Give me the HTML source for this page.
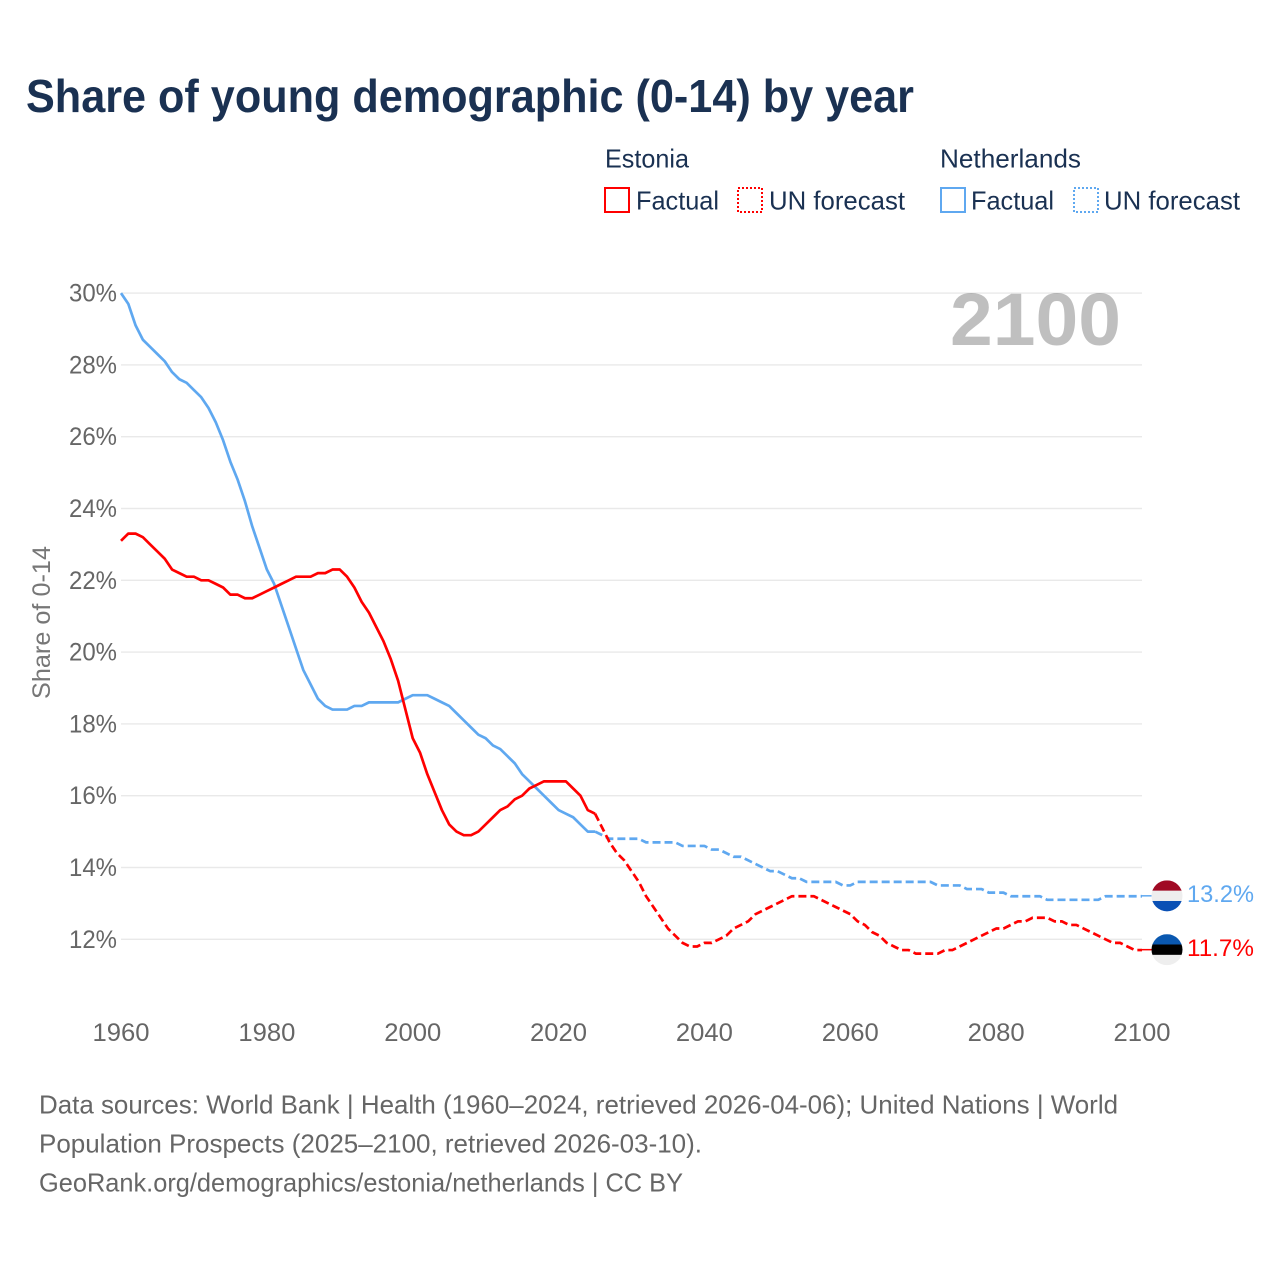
<!DOCTYPE html>
<html lang="en">
<head>
<meta charset="utf-8">
<title>Share of young demographic (0-14) by year</title>
<style>
html,body{margin:0;padding:0;background:#fff;}
svg{display:block;font-family:"Liberation Sans",sans-serif;}
</style>
</head>
<body>
<svg id="chart" xmlns="http://www.w3.org/2000/svg" width="1280" height="1280" viewBox="0 0 1280 1280">
  <rect x="0" y="0" width="1280" height="1280" fill="#ffffff"/>
  <text x="26" y="112" font-size="46" font-weight="700" fill="#1a3152" textLength="888" lengthAdjust="spacingAndGlyphs">Share of young demographic (0-14) by year</text>

  <g font-size="26" fill="#1a3152">
    <text x="605" y="167.5" textLength="84" lengthAdjust="spacingAndGlyphs">Estonia</text>
    <text x="940" y="167.5" textLength="141" lengthAdjust="spacingAndGlyphs">Netherlands</text>
    <rect x="605" y="188" width="24" height="24" fill="none" stroke="#ff0000" stroke-width="2"/>
    <text x="636" y="209.5" textLength="83" lengthAdjust="spacingAndGlyphs">Factual</text>
    <rect x="738" y="188" width="24" height="24" fill="none" stroke="#ff0000" stroke-width="2" stroke-dasharray="2 2"/>
    <text x="769" y="209.5" textLength="136" lengthAdjust="spacingAndGlyphs">UN forecast</text>
    <rect x="941" y="188" width="24" height="24" fill="none" stroke="#5fa8f0" stroke-width="2"/>
    <text x="971" y="209.5" textLength="83" lengthAdjust="spacingAndGlyphs">Factual</text>
    <rect x="1074" y="188" width="24" height="24" fill="none" stroke="#5fa8f0" stroke-width="2" stroke-dasharray="2 2"/>
    <text x="1104" y="209.5" textLength="136" lengthAdjust="spacingAndGlyphs">UN forecast</text>
  </g>

  <g id="grid"></g>
  <g id="yticks" font-size="25" fill="#666666"></g>
  <g id="xticks" font-size="25" fill="#666666"></g>
  <text transform="translate(50 622.5) rotate(-90)" text-anchor="middle" font-size="25" fill="#777777" textLength="153" lengthAdjust="spacingAndGlyphs">Share of 0-14</text>
  <text x="950" y="345" font-size="74" font-weight="700" fill="#000000" fill-opacity="0.25" textLength="171" lengthAdjust="spacingAndGlyphs">2100</text>

  <g id="series"></g>
  <g id="flags"></g>

  <g font-size="26" fill="#666666">
    <text x="39" y="1113.5" textLength="1079" lengthAdjust="spacingAndGlyphs">Data sources: World Bank | Health (1960–2024, retrieved 2026-04-06); United Nations | World</text>
    <text x="39" y="1152.5" textLength="663" lengthAdjust="spacingAndGlyphs">Population Prospects (2025–2100, retrieved 2026-03-10).</text>
    <text x="39" y="1191.5" textLength="644" lengthAdjust="spacingAndGlyphs">GeoRank.org/demographics/estonia/netherlands | CC BY</text>
  </g>
</svg>

<script>
const yTickValues = [12, 14, 16, 18, 20, 22, 24, 26, 28, 30];
const xTickValues = [1960, 1980, 2000, 2020, 2040, 2060, 2080, 2100];

const factualYears = [1960,1961,1962,1963,1964,1965,1966,1967,1968,1969,1970,1971,1972,1973,1974,1975,1976,1977,1978,1979,1980,1981,1982,1983,1984,1985,1986,1987,1988,1989,1990,1991,1992,1993,1994,1995,1996,1997,1998,1999,2000,2001,2002,2003,2004,2005,2006,2007,2008,2009,2010,2011,2012,2013,2014,2015,2016,2017,2018,2019,2020,2021,2022,2023,2024,2025];
const forecastYears = [2025,2026,2027,2028,2029,2030,2031,2032,2033,2034,2035,2036,2037,2038,2039,2040,2041,2042,2043,2044,2045,2046,2047,2048,2049,2050,2051,2052,2053,2054,2055,2056,2057,2058,2059,2060,2061,2062,2063,2064,2065,2066,2067,2068,2069,2070,2071,2072,2073,2074,2075,2076,2077,2078,2079,2080,2081,2082,2083,2084,2085,2086,2087,2088,2089,2090,2091,2092,2093,2094,2095,2096,2097,2098,2099,2100];

const estoniaFactual = [23.1,23.3,23.3,23.2,23.0,22.8,22.6,22.3,22.2,22.1,22.1,22.0,22.0,21.9,21.8,21.6,21.6,21.5,21.5,21.6,21.7,21.8,21.9,22.0,22.1,22.1,22.1,22.2,22.2,22.3,22.3,22.1,21.8,21.4,21.1,20.7,20.3,19.8,19.2,18.4,17.6,17.2,16.6,16.1,15.6,15.2,15.0,14.9,14.9,15.0,15.2,15.4,15.6,15.7,15.9,16.0,16.2,16.3,16.4,16.4,16.4,16.4,16.2,16.0,15.6,15.5];
const estoniaForecast = [15.5,15.1,14.7,14.4,14.2,13.9,13.6,13.2,12.9,12.6,12.3,12.1,11.9,11.8,11.8,11.9,11.9,12.0,12.1,12.3,12.4,12.5,12.7,12.8,12.9,13.0,13.1,13.2,13.2,13.2,13.2,13.1,13.0,12.9,12.8,12.7,12.5,12.4,12.2,12.1,11.9,11.8,11.7,11.7,11.6,11.6,11.6,11.6,11.7,11.7,11.8,11.9,12.0,12.1,12.2,12.3,12.3,12.4,12.5,12.5,12.6,12.6,12.6,12.5,12.5,12.4,12.4,12.3,12.2,12.1,12.0,11.9,11.9,11.8,11.7,11.7];
const netherlandsFactual = [30.0,29.7,29.1,28.7,28.5,28.3,28.1,27.8,27.6,27.5,27.3,27.1,26.8,26.4,25.9,25.3,24.8,24.2,23.5,22.9,22.3,21.9,21.3,20.7,20.1,19.5,19.1,18.7,18.5,18.4,18.4,18.4,18.5,18.5,18.6,18.6,18.6,18.6,18.6,18.7,18.8,18.8,18.8,18.7,18.6,18.5,18.3,18.1,17.9,17.7,17.6,17.4,17.3,17.1,16.9,16.6,16.4,16.2,16.0,15.8,15.6,15.5,15.4,15.2,15.0,15.0];
const netherlandsForecast = [15.0,14.9,14.8,14.8,14.8,14.8,14.8,14.7,14.7,14.7,14.7,14.7,14.6,14.6,14.6,14.6,14.5,14.5,14.4,14.3,14.3,14.2,14.1,14.0,13.9,13.9,13.8,13.7,13.7,13.6,13.6,13.6,13.6,13.6,13.5,13.5,13.6,13.6,13.6,13.6,13.6,13.6,13.6,13.6,13.6,13.6,13.6,13.5,13.5,13.5,13.5,13.4,13.4,13.4,13.3,13.3,13.3,13.2,13.2,13.2,13.2,13.2,13.1,13.1,13.1,13.1,13.1,13.1,13.1,13.1,13.2,13.2,13.2,13.2,13.2,13.2];

const NS = 'http://www.w3.org/2000/svg';
const RED = '#ff0000';
const BLUE = '#5fa8f0';

function xScale(year) { return 121 + (year - 1960) * (1142 - 121) / 140; }
function yScale(v) { return 939.3 - (v - 12) * (939.3 - 293.1) / 18; }

function linePath(years, values) {
  return values.map(function (v, i) {
    return (i ? 'L' : 'M') + xScale(years[i]).toFixed(2) + ' ' + yScale(v).toFixed(2);
  }).join(' ');
}

function make(tag, attrs, parent) {
  const el = document.createElementNS(NS, tag);
  Object.keys(attrs).forEach(function (k) { el.setAttribute(k, attrs[k]); });
  parent.appendChild(el);
  return el;
}

const gridGroup = document.getElementById('grid');
const yGroup = document.getElementById('yticks');
const xGroup = document.getElementById('xticks');
const seriesGroup = document.getElementById('series');
const flagGroup = document.getElementById('flags');

yTickValues.forEach(function (v) {
  const line = make('line', { x1: xScale(1960), x2: xScale(2100), y1: yScale(v), y2: yScale(v), stroke: '#e9e9e9', 'stroke-width': 1.4 }, gridGroup);
  
  
  const label = make('text', { x: 117, y: yScale(v) + 8.5, 'text-anchor': 'end', textLength: 48, lengthAdjust: 'spacingAndGlyphs' }, yGroup);
  label.textContent = v + '%';
  
  
});

xTickValues.forEach(function (year) {
  const label = make('text', { x: xScale(year), y: 1041, 'text-anchor': 'middle', textLength: 57, lengthAdjust: 'spacingAndGlyphs' }, xGroup);
  label.textContent = String(year);
  
  
});

function drawLine(name, years, values, color, dashed) {
  const attrs = { d: linePath(years, values), fill: 'none', stroke: color, 'stroke-width': 2.7, 'stroke-linejoin': 'round' };
  if (dashed) { attrs['stroke-dasharray'] = '8 4'; }
  const path = make('path', attrs, seriesGroup);
  
  
}

drawLine('netherlands-factual-line', factualYears, netherlandsFactual, BLUE, false);
drawLine('estonia-factual-line', factualYears, estoniaFactual, RED, false);
drawLine('netherlands-forecast-line', forecastYears, netherlandsForecast, BLUE, true);
drawLine('estonia-forecast-line', forecastYears, estoniaForecast, RED, true);

function drawEnd(name, value, color, stripes) {
  const cy = yScale(value) - 0.4;
  const cx = 1167;
  const r = 15.5;
  const last = xScale(2100);
  const connector = make('line', { x1: last, x2: cx - r, y1: cy, y2: cy, stroke: color, 'stroke-width': 1.5 }, flagGroup);
  
  
  const clip = make('clipPath', { id: name + '-clip' }, flagGroup);
  make('circle', { cx: cx, cy: cy, r: r }, clip);
  const flag = make('g', { 'clip-path': 'url(#' + name + '-clip)' }, flagGroup);
  
  
  stripes.forEach(function (c, i) {
    make('rect', { x: cx - r, y: cy - r + i * (2 * r / 3), width: 2 * r, height: 2 * r / 3 + 0.3, fill: c }, flag);
  });
  const label = make('text', { x: 1187, y: cy + 6.3, 'font-size': 24.5, fill: color, textLength: 67, lengthAdjust: 'spacingAndGlyphs' }, flagGroup);
  label.textContent = value.toFixed(1) + '%';
  
  
}

drawEnd('netherlands', netherlandsForecast[netherlandsForecast.length - 1], BLUE, ['#a00a24', '#eeeeee', '#0a50b5']);
drawEnd('estonia', estoniaForecast[estoniaForecast.length - 1], RED, ['#0a58b0', '#000000', '#eeeeee']);
</script>
</body>
</html>
